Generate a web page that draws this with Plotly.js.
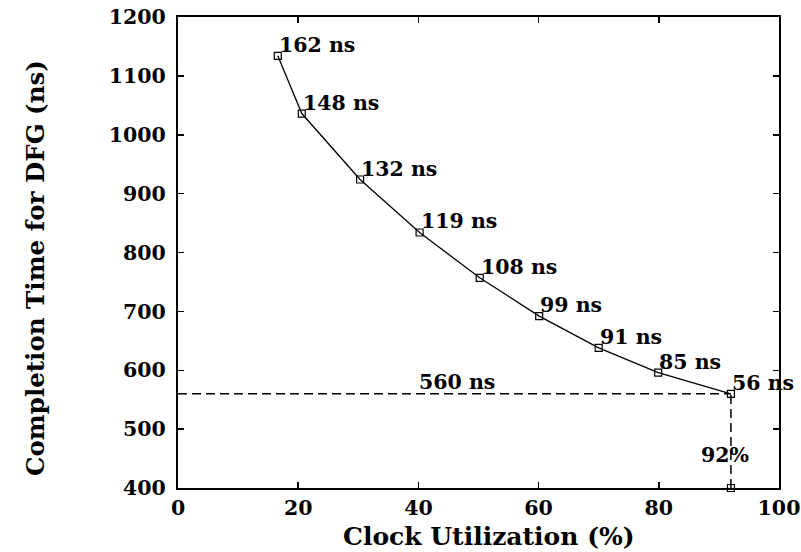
<!DOCTYPE html>
<html>
<head>
<meta charset="utf-8">
<script src="https://cdn.plot.ly/plotly-3.0.1.min.js"></script>
<style>html,body{margin:0;padding:0;background:#fff;}#chart{width:801px;height:552px;}</style>
</head>
<body>
<div id="chart"></div>
<script>
const utilization = [16.6, 20.6, 30.3, 40.2, 50.2, 60.1, 70.0, 79.9, 92];
const completion = [1134, 1036, 924, 834, 757, 692, 638, 596, 560];
const periodLabels = ['162 ns', '148 ns', '132 ns', '119 ns', '108 ns', '99 ns', '91 ns', '85 ns', '56 ns'];
const refUtil = 92;
const refTime = 560;
const yMin = 400;
const xTicks = [0, 20, 40, 60, 80, 100];
const yTicks = [400, 500, 600, 700, 800, 900, 1000, 1100, 1200];
const xTitle = 'Clock Utilization (%)';
const yTitle = 'Completion Time for DFG (ns)';

const FONT = 'DejaVu Serif, Liberation Serif, serif';
const TS = 20.5;

const traces = [
  {
    x: [0, refUtil], y: [refTime, refTime], mode: 'lines',
    line: {color: '#000', width: 1.5, dash: '9px,5px'}, hoverinfo: 'skip'
  },
  {
    x: [refUtil, refUtil], y: [yMin, refTime], mode: 'lines',
    line: {color: '#000', width: 1.5, dash: '9px,5px'}, hoverinfo: 'skip'
  },
  {
    x: utilization, y: completion, mode: 'lines+markers',
    line: {color: '#000', width: 1.3},
    marker: {symbol: 'square-open', size: 7, color: '#000', line: {width: 1.2}},
    cliponaxis: false
  },
  {
    x: [refUtil], y: [yMin], mode: 'markers',
    marker: {symbol: 'square-open', size: 7, color: '#000', line: {width: 1.2}},
    cliponaxis: false
  }
];

const pointNotes = utilization.map((u, i) => ({
  x: u, y: completion[i], xref: 'x', yref: 'y', text: periodLabels[i], showarrow: false,
  xanchor: 'left', yanchor: 'bottom', xshift: -1, yshift: -3,
  font: {family: FONT, size: TS, weight: 'bold', color: '#000'}
}));

const layout = {
  width: 801, height: 552,
  margin: {l: 178, r: 22, t: 17, b: 64},
  paper_bgcolor: '#fff', plot_bgcolor: '#fff',
  showlegend: false,
  font: {family: FONT, color: '#000', size: TS, weight: 'bold'},
  xaxis: {
    range: [0, 100], tickvals: xTicks, ticktext: xTicks.map(String),
    ticks: 'inside', ticklen: 6, tickwidth: 1.5, tickcolor: '#000',
    showline: true, linecolor: '#000', linewidth: 2, mirror: 'ticks',
    showgrid: false, zeroline: false,
    tickfont: {family: FONT, size: TS, weight: 'bold'}
  },
  yaxis: {
    range: [400, 1200], tickvals: yTicks, ticktext: yTicks.map(String),
    ticks: 'inside', ticklen: 6, tickwidth: 1.5, tickcolor: '#000',
    showline: true, linecolor: '#000', linewidth: 2, mirror: 'ticks',
    showgrid: false, zeroline: false, ticklabelstandoff: 6,
    tickfont: {family: FONT, size: TS, weight: 'bold'}
  },
  annotations: pointNotes.concat([
    {x: 46.5, y: refTime, xref: 'x', yref: 'y', text: '560 ns', showarrow: false,
     yanchor: 'bottom', yshift: -2, font: {family: FONT, size: TS, weight: 'bold'}},
    {x: refUtil, y: 456, xref: 'x', yref: 'y', text: '92%', showarrow: false,
     xanchor: 'center', xshift: -6, font: {family: FONT, size: TS, weight: 'bold'}},
    {x: 0.5175, y: -0.104, xref: 'paper', yref: 'paper', text: xTitle, showarrow: false,
     xanchor: 'center', yanchor: 'middle', font: {family: FONT, size: 25, weight: 'bold'}},
    {x: -0.238, y: 0.467, xref: 'paper', yref: 'paper', text: yTitle, showarrow: false,
     textangle: -90, xanchor: 'center', yanchor: 'middle', font: {family: FONT, size: 24.5, weight: 'bold'}}
  ])
};

Plotly.newPlot('chart', traces, layout, {displayModeBar: false, staticPlot: true});
</script>
</body>
</html>
